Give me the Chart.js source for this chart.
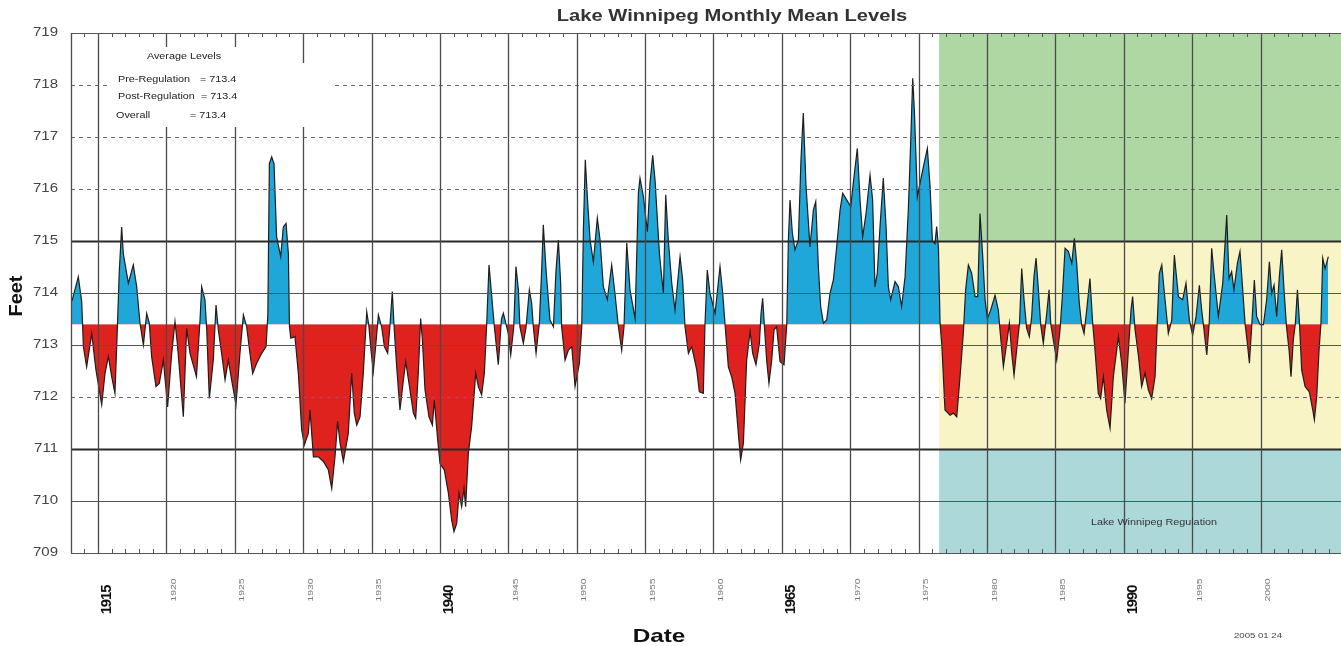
<!DOCTYPE html>
<html><head><meta charset="utf-8">
<script src="https://cdn.jsdelivr.net/npm/chart.js@4"></script>
<style>html,body{margin:0;padding:0;background:#fff}canvas{display:block}</style>
</head><body>
<canvas id="c" width="1341" height="646"></canvas>
<script>
const years = [
1913.1,1913.56,1913.81,1913.93,1914.17,1914.54,1914.85,1915.27,1915.51,1915.76,1916.0,1916.24,1916.4,1916.55,1916.73,1916.85,1917.22,1917.58,1917.83,
1918.07,1918.32,1918.56,1918.75,1918.92,1919.24,1919.48,1919.78,1920.09,1920.39,1920.63,1920.8,1921.24,1921.48,1921.73,1922.2,1922.46,1922.58,1922.82,1922.95,
1923.14,1923.43,1923.63,1923.8,1924.04,1924.29,1924.53,1924.77,1925.09,1925.38,1925.63,1925.87,1926.11,1926.31,1926.6,1926.97,1927.29,1927.42,1927.53,1927.7,1927.87,
1928.06,1928.36,1928.55,1928.75,1928.92,1929.0,1929.1,1929.4,1929.65,1929.89,1930.09,1930.38,1930.5,1930.75,1931.11,1931.48,1931.84,1932.09,1932.33,1932.52,1932.7,1932.94,
1933.3,1933.55,1933.74,1933.92,1934.16,1934.4,1934.65,1934.8,1934.96,1935.13,1935.3,1935.5,1935.74,1935.94,1936.18,1936.35,1936.52,1936.65,1936.84,
1937.08,1937.33,1937.5,1937.74,1938.06,1938.23,1938.42,1938.59,1938.72,1938.91,1939.2,1939.45,1939.59,1939.84,1940.01,1940.32,1940.62,1940.86,
1941.03,1941.23,1941.4,1941.59,1941.76,1941.88,1942.08,1942.32,1942.62,1942.81,1943.05,1943.25,1943.42,1943.59,1943.79,1943.98,1944.27,1944.5,1944.64,
1945.0,1945.18,1945.4,1945.56,1945.74,1945.85,1946.1,1946.3,1946.54,1946.71,1946.83,1947.03,1947.27,1947.44,1947.56,1947.76,1948.05,1948.3,1948.49,1948.66,1948.83,1948.9,
1949.15,1949.39,1949.64,1949.88,1950.2,1950.37,1950.49,1950.63,1950.78,1950.98,1951.22,1951.51,1951.71,1951.95,1952.24,1952.56,1952.8,1953.05,1953.29,1953.46,1953.66,1953.9,
1954.27,1954.51,1954.63,1954.88,1955.17,1955.36,1955.56,1955.73,1956.05,1956.34,1956.51,1956.7,1956.95,1957.19,1957.56,1957.75,1957.92,1958.17,1958.41,1958.78,1958.97,
1959.26,1959.38,1959.55,1959.75,1960.12,1960.48,1960.68,1960.85,1961.09,1961.33,1961.58,1961.82,1961.99,1962.19,1962.43,1962.68,1962.87,1963.11,1963.36,1963.48,1963.6,1963.72,1963.89,
1964.06,1964.26,1964.43,1964.62,1964.87,1965.16,1965.36,1965.48,1965.6,1965.77,1965.96,1966.21,1966.4,1966.57,1966.77,1967.06,1967.31,1967.48,1967.67,1967.84,
1968.04,1968.28,1968.52,1968.77,1969.01,1969.26,1969.45,1969.74,1970.04,1970.28,1970.52,1970.72,1970.91,1971.16,1971.45,1971.64,1971.81,1971.98,
1972.18,1972.42,1972.62,1972.79,1972.96,1973.28,1973.52,1973.76,1974.01,1974.25,1974.42,1974.57,1974.69,1974.91,1975.1,1975.4,1975.64,1975.84,
1976.01,1976.2,1976.32,1976.45,1976.57,1976.7,1976.93,1977.3,1977.54,1977.79,1978.03,1978.27,1978.44,1978.64,1978.88,1979.13,1979.32,1979.49,1979.69,1979.86,
1980.03,1980.27,1980.59,1980.83,1980.95,1981.2,1981.44,1981.64,1981.81,1981.98,1982.22,1982.38,1982.54,1982.71,1982.9,1983.1,1983.27,1983.44,1983.59,1983.76,1983.93,
1984.12,1984.37,1984.54,1984.66,1984.85,1985.1,1985.34,1985.51,1985.71,1985.95,1986.2,1986.39,1986.56,1986.75,1986.92,1987.1,1987.29,1987.53,1987.73,1987.9,
1988.14,1988.31,1988.51,1988.75,1989.0,1989.24,1989.61,1989.85,1990.09,1990.34,1990.53,1990.65,1990.83,1991.07,1991.31,1991.56,1991.8,1992.04,1992.29,1992.45,1992.6,1992.78,
1993.02,1993.26,1993.51,1993.7,1994.0,1994.31,1994.55,1994.8,1995.04,1995.29,1995.53,1995.7,1995.87,1996.07,1996.25,1996.43,1996.6,1996.92,1997.24,1997.41,1997.53,1997.7,1997.89,
1998.06,1998.31,1998.5,1998.7,1998.87,1999.04,1999.19,1999.37,1999.55,1999.72,1999.97,2000.21,2000.45,2000.65,2000.82,2000.99,2001.18,2001.38,2001.55,2001.72,2001.9,
2002.09,2002.23,2002.4,2002.55,2002.7,2002.85,2003.01,2003.26,2003.57,2003.82,2003.94,2004.11,2004.28,2004.42,2004.55,2004.72,2004.96
];
const levels = [
713.85,714.31,713.83,712.97,712.58,713.22,712.52,711.85,712.45,712.78,712.39,712.07,713.2,714.38,715.27,714.76,714.19,714.54,714.12,
713.42,713.0,713.61,713.42,712.78,712.2,712.26,712.71,711.81,712.84,713.45,713.03,711.62,713.32,712.84,712.39,713.48,714.12,713.87,713.29,
711.97,712.71,713.77,713.29,712.84,712.33,712.71,712.33,711.85,712.84,713.58,713.35,712.84,712.45,712.65,712.84,712.97,713.6,716.49,716.62,716.49,
715.08,714.7,715.27,715.34,714.76,713.35,713.13,713.16,712.46,711.37,711.08,711.3,711.75,710.85,710.85,710.76,710.6,710.24,710.85,711.53,711.11,710.76,
711.3,712.46,711.69,711.46,711.62,712.46,713.64,713.38,712.9,712.49,712.97,713.58,713.35,712.97,712.84,713.38,714.03,713.35,712.58,
711.75,712.33,712.68,712.26,711.69,711.59,712.46,713.51,713.1,712.14,711.62,711.46,711.94,711.17,710.72,710.6,710.15,709.63,
709.41,709.57,710.15,709.89,710.24,709.89,710.92,711.43,712.46,712.2,712.04,712.46,713.4,714.54,713.93,713.35,712.62,713.5,713.61,
713.22,712.81,713.35,714.51,714.06,713.35,713.03,713.35,714.06,713.8,713.35,712.84,713.42,714.44,715.31,714.44,713.48,713.35,714.44,715.02,714.19,713.35,
712.71,712.9,712.97,712.2,712.65,713.35,715.21,716.56,715.85,715.02,714.6,715.44,715.02,714.12,713.87,714.54,713.99,713.35,712.9,713.35,714.96,714.06,
713.51,715.92,716.21,715.85,715.18,716.11,716.65,716.17,714.76,713.99,715.89,715.02,714.19,713.67,714.7,714.25,713.35,712.84,712.97,712.52,712.1,
712.07,713.39,714.44,713.99,713.61,714.51,713.99,713.39,712.58,712.39,712.07,711.3,710.79,711.11,712.71,713.26,712.84,712.62,713.03,713.61,713.9,713.39,712.71,
712.26,712.71,713.29,713.35,712.68,712.62,713.39,715.02,715.79,715.15,714.83,715.02,716.56,717.46,716.05,714.89,715.6,715.76,714.51,713.74,
713.42,713.48,713.99,714.25,714.89,715.6,715.92,715.79,715.66,716.24,716.78,715.79,715.08,715.53,716.27,715.79,714.12,714.38,
715.28,716.21,715.28,714.12,713.87,714.22,714.12,713.74,714.31,715.6,716.88,718.13,717.52,715.85,716.11,716.49,716.78,716.05,
715.0,714.95,715.28,714.89,713.42,713.0,711.75,711.65,711.69,711.62,712.39,713.22,714.06,714.54,714.38,713.93,713.93,715.53,714.7,713.87,
713.51,713.67,713.96,713.67,713.29,712.58,713.03,713.42,712.84,712.42,713.03,713.42,714.47,713.87,713.32,713.16,713.55,714.32,714.67,714.06,713.39,
713.03,713.61,714.06,713.42,713.1,712.71,713.29,713.93,714.86,714.8,714.57,715.05,714.57,713.8,713.39,713.22,713.67,714.28,713.42,712.9,
712.07,711.97,712.39,711.75,711.4,712.39,713.16,712.65,711.88,712.9,713.67,713.93,713.29,712.8,712.2,712.46,712.14,711.97,712.39,713.42,714.38,714.54,
713.87,713.22,713.48,714.73,713.93,713.87,714.19,713.48,713.19,713.55,714.15,713.67,713.29,712.81,713.42,714.86,714.38,713.55,714.19,714.96,715.5,714.28,714.41,
714.06,714.57,714.8,714.06,713.42,713.03,712.65,713.42,714.25,713.55,713.39,713.39,713.87,714.6,713.99,714.15,713.55,714.32,714.83,714.06,713.35,
712.9,712.39,713.1,713.42,714.06,713.42,712.52,712.2,712.1,711.75,711.56,712.01,712.9,713.42,714.67,714.47,714.7
];
const baseLevel = 713.4;
const regulationStart = 1976.5;
const yTicks = [709,710,711,712,713,714,715,716,717,718,719];
const dashedLevels = [712,716,717,718];
const heavyLevels = [711,715];
const xTickYears = [1915,1920,1925,1930,1935,1940,1945,1950,1955,1960,1965,1970,1975,1980,1985,1990,1995,2000];
const bigTickYears = [1915,1940,1965,1990];
const minorYears = [];
for (let y = 1914; y <= 2005; y++) minorYears.push(y);
const bandLevels = [[715,719],[711,715],[709,711]];
const bandColors = ['#afd7a3','#f8f4c6','#acd8da'];
const averageRows = [['Pre-Regulation','= 713.4'],['Post-Regulation','= 713.4'],['Overall','= 713.4']];

function txt(ctx, s, x, y, font, color, align, sx, rot, ls) {
  ctx.save();
  ctx.translate(x, y);
  if (rot) ctx.rotate(rot);
  ctx.scale(sx || 1, 1);
  ctx.font = font;
  ctx.fillStyle = color;
  ctx.textAlign = align || 'left';
  ctx.textBaseline = 'middle';
  if (ls) ctx.letterSpacing = ls;
  ctx.fillText(s, 0, 0);
  ctx.restore();
}

const decor = {
  id: 'decor',
  beforeDatasetsDraw(chart) {
    const {ctx, chartArea: a, scales: {x, y}} = chart;
    ctx.save();
    const x0 = x.getPixelForValue(regulationStart);
    bandLevels.forEach((b, i) => {
      const yt = y.getPixelForValue(b[1]), yb = y.getPixelForValue(b[0]);
      ctx.fillStyle = bandColors[i];
      ctx.fillRect(x0, yt, a.right - x0, yb - yt);
    });
    ctx.restore();
  },
  afterDatasetsDraw(chart) {
    const {ctx, chartArea: a, scales: {x, y}} = chart;
    ctx.save();
    // horizontal grid
    yTicks.forEach(v => {
      const py = Math.round(y.getPixelForValue(v)) + 0.5;
      ctx.beginPath();
      if (dashedLevels.includes(v)) {
        ctx.setLineDash([4, 4]);
        ctx.strokeStyle = '#6a6a6a';
        ctx.lineWidth = 1;
      } else if (heavyLevels.includes(v)) {
        ctx.setLineDash([]);
        ctx.strokeStyle = '#2a2a2a';
        ctx.lineWidth = 2;
      } else {
        ctx.setLineDash([]);
        ctx.strokeStyle = '#555';
        ctx.lineWidth = 1.2;
      }
      ctx.moveTo(a.left, py);
      ctx.lineTo(a.right, py);
      ctx.stroke();
    });
    ctx.setLineDash([]);
    // vertical grid
    ctx.strokeStyle = '#4a4a4a';
    ctx.lineWidth = 1.3;
    xTickYears.forEach(yr => {
      const px = Math.round(x.getPixelForValue(yr)) + 0.5;
      ctx.beginPath();
      ctx.moveTo(px, a.top);
      ctx.lineTo(px, a.bottom);
      ctx.stroke();
    });
    // left border
    ctx.beginPath();
    ctx.moveTo(a.left + 0.5, a.top);
    ctx.lineTo(a.left + 0.5, a.bottom);
    ctx.stroke();
    // white legend box
    ctx.fillStyle = '#fff';
    ctx.fillRect(108, 47, 192, 80);
    ctx.fillRect(300, 63, 32, 64);
    // minor ticks
    ctx.strokeStyle = '#555';
    ctx.lineWidth = 1;
    minorYears.forEach(yr => {
      const px = Math.round(x.getPixelForValue(yr)) + 0.5;
      ctx.beginPath();
      ctx.moveTo(px, a.top); ctx.lineTo(px, a.top + 4);
      ctx.moveTo(px, a.bottom); ctx.lineTo(px, a.bottom - 4);
      ctx.stroke();
    });
    // y labels
    yTicks.forEach(v => {
      txt(ctx, String(v), a.left - 13, y.getPixelForValue(v), '12px "Liberation Sans", Arial, sans-serif', '#444', 'right', 1.25);
    });
    // x labels
    xTickYears.forEach(yr => {
      const px = x.getPixelForValue(yr);
      if (bigTickYears.includes(yr)) {
        txt(ctx, String(yr), px + 9, 600, 'bold 14px "Liberation Sans", Arial, sans-serif', '#111', 'center', 1.05, -Math.PI / 2, '-1px');
      } else {
        txt(ctx, String(yr), px + 7.5, 590, '8px "Liberation Sans", Arial, sans-serif', '#777', 'center', 1.3, -Math.PI / 2);
      }
    });
    // legend box text
    const f9 = '9px "Liberation Sans", Arial, sans-serif';
    txt(ctx, 'Average Levels', 184, 57, f9, '#222', 'center', 1.2);
    txt(ctx, averageRows[0][0], 118, 80, f9, '#222', 'left', 1.2);
    txt(ctx, averageRows[0][1], 200, 80, f9, '#222', 'left', 1.2);
    txt(ctx, averageRows[1][0], 118, 97, f9, '#222', 'left', 1.2);
    txt(ctx, averageRows[1][1], 201, 97, f9, '#222', 'left', 1.2);
    txt(ctx, averageRows[2][0], 116, 116, f9, '#222', 'left', 1.2);
    txt(ctx, averageRows[2][1], 190, 116, f9, '#222', 'left', 1.2);
    // regulation label
    txt(ctx, 'Lake Winnipeg Regulation', 1154, 523, f9, '#333', 'center', 1.2);
    // titles
    txt(ctx, 'Lake Winnipeg Monthly Mean Levels', 732, 17, 'bold 16px "Liberation Sans", Arial, sans-serif', '#333', 'center', 1.26);
    txt(ctx, 'Feet', 17, 296, 'bold 19px "Liberation Sans", Arial, sans-serif', '#111', 'center', 1.05, -Math.PI / 2);
    txt(ctx, 'Date', 659, 637, 'bold 19px "Liberation Sans", Arial, sans-serif', '#111', 'center', 1.28);
    txt(ctx, '2005 01 24', 1258, 636, '8px "Liberation Sans", Arial, sans-serif', '#444', 'center', 1.2);
    ctx.restore();
  }
};

new Chart(document.getElementById('c'), {
  type: 'line',
  data: {
    datasets: [{
      data: years.map((yr, i) => ({x: yr, y: levels[i]})),
      borderColor: '#1e1e1e',
      borderWidth: 1.2,
      pointRadius: 0,
      tension: 0,
      fill: {target: {value: baseLevel}, above: '#1fa7da', below: '#df221d'}
    }]
  },
  options: {
    responsive: false,
    animation: false,
    devicePixelRatio: 1,
    layout: {padding: {left: 71, top: 33, right: 0, bottom: 93}},
    plugins: {legend: {display: false}, tooltip: {enabled: false}, title: {display: false}},
    scales: {
      x: {type: 'linear', display: false, min: 1913.026, max: 2005.886},
      y: {type: 'linear', display: false, min: 709, max: 719}
    }
  },
  plugins: [decor]
});
</script>
</body></html>
